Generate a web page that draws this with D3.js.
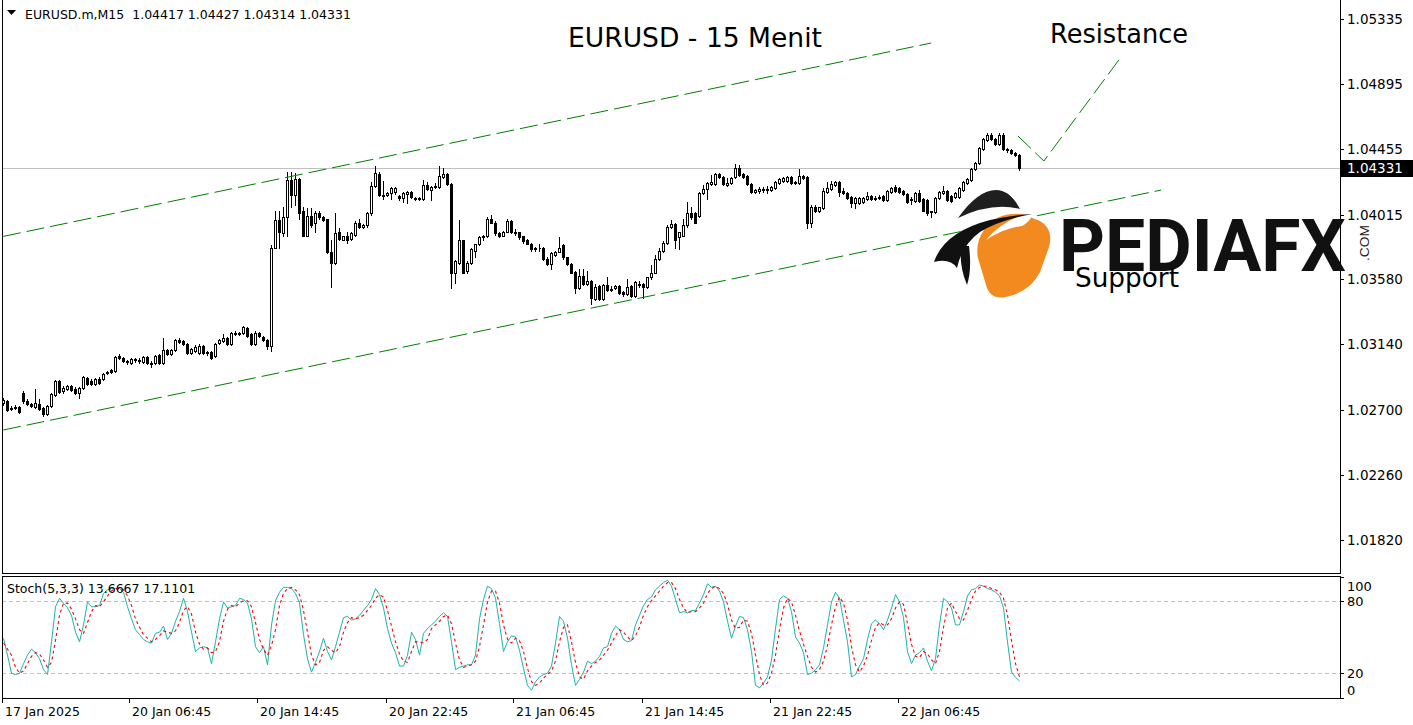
<!DOCTYPE html>
<html>
<head>
<meta charset="utf-8">
<script src="https://cdn.jsdelivr.net/npm/d3@7"></script>
<style>
html, body { margin: 0; padding: 0; background: #fff; }
svg { display: block; }
text { white-space: pre; }
</style>
</head>
<body>
<svg id="chart" width="1413" height="725"></svg>
<script>
// EURUSD.m M15 candles (index 0 = first bar on the left)
var opens = [
1.02746,1.02759,1.02705,1.02712,1.02718,1.02813,1.02759,1.02739,1.02718,1.02739,
1.02712,1.02671,1.02725,1.02800,1.02894,1.02827,1.02840,1.02860,1.02840,1.02813,
1.02847,1.02915,1.02894,1.02874,1.02908,1.02908,1.02948,1.02969,1.02962,1.03063,
1.03050,1.03029,1.03016,1.03043,1.03036,1.03023,1.03056,1.03016,1.03016,1.03070,
1.03016,1.03104,1.03077,1.03104,1.03171,1.03165,1.03144,1.03084,1.03097,1.03084,
1.03131,1.03090,1.03090,1.03063,1.03151,1.03165,1.03185,1.03144,1.03219,1.03212,
1.03219,1.03253,1.03212,1.03144,1.03219,1.03192,1.03171,1.03131,1.03793,1.03976,
1.03888,1.03996,1.04246,1.04145,1.04253,1.04043,1.03874,1.04003,1.03956,1.04023,
1.03996,1.03983,1.03760,1.03692,1.03901,1.03847,1.03868,1.03854,1.03881,1.03962,
1.03929,1.03942,1.04023,1.04206,1.04287,1.04145,1.04145,1.04158,1.04165,1.04138,
1.04125,1.04152,1.04165,1.04125,1.04118,1.04118,1.04212,1.04179,1.04199,1.04199,
1.04267,1.04287,1.04219,1.03618,1.03692,1.03841,1.03638,1.03692,1.03773,1.03814,
1.03861,1.03868,1.03989,1.03962,1.03888,1.03874,1.03901,1.03969,1.03895,1.03895,
1.03868,1.03847,1.03820,1.03780,1.03793,1.03793,1.03719,1.03685,1.03746,1.03766,
1.03807,1.03726,1.03685,1.03631,1.03523,1.03604,1.03550,1.03570,1.03449,1.03536,
1.03449,1.03543,1.03509,1.03523,1.03536,1.03496,1.03482,1.03536,1.03469,1.03550,
1.03550,1.03530,1.03591,1.03624,1.03719,1.03773,1.03827,1.03929,1.03949,1.03861,
1.03874,1.03942,1.04023,1.04023,1.04003,1.04158,1.04185,1.04219,1.04219,1.04287,
1.04267,1.04212,1.04226,1.04267,1.04327,1.04287,1.04273,1.04219,1.04165,1.04172,
1.04185,1.04179,1.04179,1.04192,1.04226,1.04239,1.04239,1.04267,1.04226,1.04226,
1.04273,1.04267,1.03956,1.04070,1.04037,1.04057,1.04165,1.04185,1.04212,1.04233,
1.04172,1.04158,1.04131,1.04091,1.04091,1.04098,1.04118,1.04138,1.04118,1.04125,
1.04138,1.04111,1.04165,1.04199,1.04192,1.04172,1.04152,1.04111,1.04104,1.04158,
1.04118,1.04111,1.04030,1.04030,1.04125,1.04158,1.04172,1.04138,1.04131,1.04131,
1.04179,1.04226,1.04246,1.04321,1.04361,1.04456,1.04517,1.04550,1.04523,1.04490,
1.04550,1.04456,1.04449,1.04429,1.04417];

var highs = [
1.02779,1.02766,1.02725,1.02732,1.02725,1.02827,1.02773,1.02746,1.02840,1.02773,
1.02718,1.02732,1.02813,1.02901,1.02901,1.02860,1.02867,1.02867,1.02854,1.02854,
1.02928,1.02921,1.02908,1.02915,1.02921,1.02948,1.02962,1.02975,1.03063,1.03077,
1.03056,1.03036,1.03050,1.03050,1.03050,1.03063,1.03063,1.03029,1.03070,1.03077,
1.03185,1.03111,1.03111,1.03178,1.03185,1.03171,1.03151,1.03117,1.03138,1.03144,
1.03138,1.03097,1.03097,1.03151,1.03178,1.03212,1.03192,1.03225,1.03232,1.03225,
1.03266,1.03259,1.03219,1.03232,1.03225,1.03198,1.03178,1.03807,1.04043,1.04043,
1.04064,1.04300,1.04300,1.04294,1.04260,1.04064,1.04057,1.04057,1.04037,1.04037,
1.04003,1.03989,1.03841,1.04023,1.03922,1.03874,1.03895,1.03895,1.03969,1.03989,
1.03949,1.04030,1.04233,1.04341,1.04300,1.04239,1.04165,1.04199,1.04199,1.04145,
1.04165,1.04172,1.04172,1.04131,1.04131,1.04246,1.04233,1.04206,1.04226,1.04341,
1.04327,1.04294,1.04226,1.03712,1.03976,1.03847,1.03699,1.03787,1.03820,1.03868,
1.03881,1.03996,1.04010,1.03969,1.03895,1.03908,1.03989,1.03976,1.03915,1.03901,
1.03874,1.03854,1.03827,1.03800,1.03814,1.03800,1.03726,1.03760,1.03773,1.03861,
1.03814,1.03732,1.03692,1.03638,1.03651,1.03645,1.03638,1.03577,1.03550,1.03543,
1.03550,1.03591,1.03536,1.03543,1.03543,1.03503,1.03584,1.03543,1.03570,1.03570,
1.03557,1.03597,1.03672,1.03746,1.03787,1.03834,1.03942,1.03976,1.03962,1.03901,
1.03983,1.04098,1.04070,1.04030,1.04165,1.04212,1.04233,1.04280,1.04294,1.04294,
1.04273,1.04260,1.04267,1.04354,1.04348,1.04294,1.04280,1.04226,1.04185,1.04199,
1.04199,1.04206,1.04206,1.04239,1.04260,1.04267,1.04273,1.04273,1.04239,1.04321,
1.04280,1.04273,1.04077,1.04077,1.04070,1.04192,1.04233,1.04239,1.04239,1.04239,
1.04192,1.04165,1.04138,1.04131,1.04131,1.04131,1.04165,1.04145,1.04138,1.04145,
1.04145,1.04179,1.04199,1.04212,1.04199,1.04179,1.04158,1.04131,1.04165,1.04179,
1.04125,1.04118,1.04043,1.04131,1.04172,1.04206,1.04179,1.04145,1.04165,1.04199,
1.04239,1.04260,1.04327,1.04368,1.04469,1.04530,1.04564,1.04564,1.04530,1.04564,
1.04564,1.04463,1.04456,1.04436,1.04427];

var lows = [
1.02732,1.02691,1.02698,1.02705,1.02678,1.02746,1.02732,1.02718,1.02712,1.02698,
1.02658,1.02664,1.02718,1.02793,1.02813,1.02813,1.02833,1.02827,1.02806,1.02779,
1.02840,1.02867,1.02867,1.02867,1.02874,1.02901,1.02942,1.02948,1.02955,1.03043,
1.03023,1.03009,1.03009,1.03023,1.03016,1.03016,1.03009,1.02989,1.03009,1.03009,
1.03009,1.03070,1.03070,1.03097,1.03151,1.03138,1.03077,1.03077,1.03090,1.03077,
1.03077,1.03070,1.03043,1.03056,1.03144,1.03158,1.03138,1.03138,1.03205,1.03205,
1.03212,1.03192,1.03138,1.03138,1.03192,1.03165,1.03111,1.03097,1.03787,1.03787,
1.03874,1.03874,1.04064,1.04077,1.03989,1.03868,1.03868,1.03935,1.03895,1.03989,
1.03969,1.03753,1.03530,1.03685,1.03847,1.03841,1.03827,1.03847,1.03874,1.03922,
1.03922,1.03935,1.04016,1.04199,1.04138,1.04118,1.04138,1.04118,1.04152,1.04111,
1.04098,1.04091,1.04125,1.04111,1.04111,1.04111,1.04179,1.04111,1.04192,1.04192,
1.04260,1.04212,1.03523,1.03557,1.03685,1.03618,1.03624,1.03685,1.03726,1.03807,
1.03841,1.03861,1.03956,1.03881,1.03861,1.03868,1.03895,1.03888,1.03881,1.03854,
1.03827,1.03814,1.03773,1.03773,1.03773,1.03712,1.03678,1.03645,1.03739,1.03760,
1.03719,1.03678,1.03618,1.03489,1.03516,1.03543,1.03543,1.03415,1.03442,1.03442,
1.03442,1.03503,1.03503,1.03516,1.03482,1.03469,1.03476,1.03462,1.03462,1.03530,
1.03455,1.03523,1.03584,1.03618,1.03712,1.03766,1.03820,1.03922,1.03793,1.03780,
1.03868,1.03935,1.03989,1.03956,1.03996,1.04152,1.04118,1.04212,1.04212,1.04260,
1.04212,1.04206,1.04219,1.04260,1.04273,1.04260,1.04212,1.04158,1.04158,1.04158,
1.04165,1.04158,1.04172,1.04185,1.04219,1.04233,1.04233,1.04219,1.04219,1.04219,
1.04253,1.03922,1.03935,1.04030,1.04030,1.04050,1.04158,1.04179,1.04206,1.04138,
1.04152,1.04118,1.04070,1.04057,1.04084,1.04091,1.04111,1.04111,1.04111,1.04118,
1.04104,1.04104,1.04158,1.04165,1.04158,1.04145,1.04091,1.04084,1.04098,1.04098,
1.04037,1.04016,1.03996,1.04023,1.04118,1.04152,1.04104,1.04098,1.04125,1.04125,
1.04172,1.04219,1.04239,1.04314,1.04354,1.04449,1.04510,1.04517,1.04483,1.04483,
1.04449,1.04436,1.04422,1.04408,1.04314];

var closes = [
1.02766,1.02698,1.02712,1.02718,1.02685,1.02759,1.02739,1.02725,1.02746,1.02705,
1.02671,1.02725,1.02806,1.02894,1.02820,1.02847,1.02860,1.02833,1.02813,1.02847,
1.02921,1.02874,1.02874,1.02908,1.02881,1.02942,1.02955,1.02955,1.03056,1.03050,
1.03029,1.03023,1.03043,1.03036,1.03029,1.03056,1.03016,1.03009,1.03063,1.03016,
1.03104,1.03077,1.03104,1.03171,1.03158,1.03144,1.03084,1.03111,1.03124,1.03131,
1.03084,1.03084,1.03050,1.03144,1.03171,1.03185,1.03144,1.03219,1.03212,1.03219,
1.03259,1.03198,1.03144,1.03219,1.03198,1.03171,1.03131,1.03793,1.03976,1.03895,
1.03996,1.04246,1.04145,1.04253,1.04023,1.03874,1.04003,1.03942,1.04023,1.03996,
1.03976,1.03760,1.03692,1.03888,1.03854,1.03868,1.03847,1.03888,1.03962,1.03929,
1.03942,1.04023,1.04206,1.04294,1.04145,1.04138,1.04158,1.04192,1.04192,1.04125,
1.04158,1.04165,1.04131,1.04118,1.04125,1.04212,1.04185,1.04199,1.04206,1.04273,
1.04287,1.04219,1.03618,1.03705,1.03841,1.03624,1.03692,1.03780,1.03814,1.03861,
1.03874,1.03989,1.03962,1.03888,1.03874,1.03901,1.03969,1.03895,1.03888,1.03861,
1.03834,1.03820,1.03780,1.03793,1.03787,1.03719,1.03685,1.03753,1.03766,1.03793,
1.03726,1.03685,1.03624,1.03523,1.03604,1.03550,1.03570,1.03455,1.03530,1.03449,
1.03543,1.03509,1.03516,1.03536,1.03489,1.03482,1.03530,1.03469,1.03563,1.03543,
1.03530,1.03591,1.03624,1.03719,1.03773,1.03827,1.03935,1.03949,1.03841,1.03895,
1.03942,1.04023,1.03996,1.03962,1.04158,1.04185,1.04226,1.04233,1.04287,1.04267,
1.04219,1.04226,1.04260,1.04327,1.04280,1.04267,1.04219,1.04165,1.04179,1.04185,
1.04179,1.04185,1.04199,1.04233,1.04253,1.04260,1.04267,1.04226,1.04233,1.04273,
1.04260,1.03956,1.04070,1.04037,1.04064,1.04172,1.04192,1.04219,1.04233,1.04165,
1.04158,1.04125,1.04091,1.04125,1.04125,1.04125,1.04138,1.04118,1.04125,1.04131,
1.04111,1.04172,1.04192,1.04172,1.04165,1.04152,1.04098,1.04118,1.04158,1.04104,
1.04043,1.04023,1.04037,1.04125,1.04165,1.04172,1.04111,1.04104,1.04158,1.04192,
1.04233,1.04253,1.04321,1.04361,1.04463,1.04523,1.04550,1.04523,1.04490,1.04550,
1.04456,1.04449,1.04429,1.04415,1.04331];

// Stochastic(5,3,3): main (%K) and signal (%D) lines
var stochMain = [
49,35,20,19,20,28,35,40,37,32, 23,19,46,75,82,78,74,68,54,46,
60,79,75,75,76,86,89,90,90,90, 87,75,65,56,52,48,46,45,53,54,
59,48,53,63,71,82,71,54,38,41, 42,41,28,46,65,79,74,75,76,82,
81,78,65,42,37,42,27,60,80,87, 91,91,90,86,78,52,32,21,29,38,
49,38,31,42,54,66,67,64,65,68, 72,76,81,90,85,74,57,45,37,26,
26,35,54,48,35,53,57,60,63,67, 70,67,46,23,25,26,27,27,35,65,
81,92,90,82,61,38,46,51,50,39, 24,10,6,13,17,19,20,26,45,67,
63,49,27,10,15,21,30,28,30,34, 41,42,53,59,56,48,46,47,60,68,
76,81,83,89,92,95,97,92,81,70, 71,70,72,72,78,85,94,91,92,88,
79,63,49,59,67,66,56,38,10,8, 12,17,31,57,81,84,82,71,50,45,
37,19,20,23,27,41,60,79,87,82, 64,46,17,19,26,32,48,61,64,61,
56,64,74,85,79,66,38,28,35,37, 41,30,22,32,60,82,79,74,60,60,
71,84,89,90,93,92,90,89,87,84, 74,46,21,16.66,13.6667];

var stochSignal = [
45,40,35,25,20,22,28,34,37,36, 31,25,29,47,68,78,78,73,65,56,
53,62,71,76,75,79,84,88,90,90, 89,84,76,65,58,52,49,46,48,51,
55,54,53,55,62,72,75,69,54,44, 40,41,37,38,46,63,73,76,75,78,
80,80,75,62,48,40,35,43,56,76, 86,90,91,89,85,72,54,35,27,29,
39,42,39,37,42,54,62,66,65,66, 68,72,76,82,85,83,72,59,46,36,
30,29,38,46,46,45,48,57,60,63, 67,68,61,45,31,25,26,27,30,42,
60,79,88,88,78,60,48,45,49,47, 38,24,13,10,12,16,19,22,30,46,
58,60,46,29,17,15,22,26,29,31, 35,39,45,51,56,54,50,47,51,58,
68,75,80,84,88,92,95,95,90,81, 74,70,71,71,74,78,86,90,92,90,
86,77,64,57,58,64,63,53,35,19, 10,12,20,35,56,74,82,79,68,55,
44,34,25,21,23,30,43,60,75,83, 78,64,42,27,21,26,35,47,58,62,
60,60,65,74,79,77,61,44,34,33, 38,36,31,28,38,58,74,78,71,65,
64,72,81,88,91,92,92,90,89,87, 82,68,47,28,17.1101];

var timeLabels = ["17 Jan 2025", "20 Jan 06:45", "20 Jan 14:45", "20 Jan 22:45",
                  "21 Jan 06:45", "21 Jan 14:45", "21 Jan 22:45", "22 Jan 06:45"];
var timeBars = [0, 32, 64, 96, 128, 160, 192, 224];

var priceTicks = [1.05335, 1.04895, 1.04455, 1.04015, 1.03580, 1.03140, 1.02700, 1.02260, 1.01820];
var stochTicks = [100, 80, 20, 0];
var stochLevels = [80, 20];
var lastPrice = 1.04331;

// hand drawn trend lines: [bar index, price]
var upperChannel = [[-0.1, 1.03868], [231.9, 1.05173]];
var lowerChannel = [[-0.1, 1.02562], [289.4, 1.04181]];
var resistancePath = [[253.6, 1.04546], [260.1, 1.04377], [279.4, 1.05079]];

var headerText = "EURUSD.m,M15  1.04417 1.04427 1.04314 1.04331";
var stochText = "Stoch(5,3,3) 13.6667 17.1101";

var svg = d3.select("#chart");
var width = 1413, height = 725;
var plotL = 2, plotR = 1340;
var mainTop = 0, mainBot = 574;
var stTop = 576, stBot = 698;

var x = d3.scaleLinear().domain([0, opens.length - 1]).range([3.5, 3.5 + 4 * (opens.length - 1)]);
var y = d3.scaleLinear().domain([1.01820, 1.05335]).range([540, 19]);
var ys = d3.scaleLinear().domain([0, 100]).range([697.5, 576.5]);

var defs = svg.append("defs");
defs.append("clipPath").attr("id", "clipMain").append("rect")
    .attr("x", plotL + 1).attr("y", mainTop).attr("width", plotR - plotL - 1).attr("height", mainBot - mainTop);
defs.append("clipPath").attr("id", "clipStoch").append("rect")
    .attr("x", plotL + 1).attr("y", stTop + 1).attr("width", plotR - plotL - 1).attr("height", stBot - stTop - 1);

svg.append("rect").attr("width", width).attr("height", height).attr("fill", "#fff");

// current price line
svg.append("line")
    .attr("x1", plotL).attr("x2", plotR)
    .attr("y1", Math.round(y(lastPrice)) + 0.5).attr("y2", Math.round(y(lastPrice)) + 0.5)
    .attr("stroke", "#c0c0c0").attr("shape-rendering", "crispEdges");

// candles
var bars = d3.range(opens.length).map(function (i) {
    return { i: i, o: opens[i], h: highs[i], l: lows[i], c: closes[i] };
});
var cg = svg.append("g").attr("clip-path", "url(#clipMain)").attr("shape-rendering", "crispEdges");

cg.selectAll("line.wick").data(bars).join("line")
    .attr("class", "wick")
    .attr("x1", function (d) { return x(d.i); })
    .attr("x2", function (d) { return x(d.i); })
    .attr("y1", function (d) { return Math.round(y(d.h)); })
    .attr("y2", function (d) { return Math.round(y(d.l)) + 1; })
    .attr("stroke", "#000");

cg.selectAll("path.body").data(bars).join("path")
    .attr("class", "body")
    .attr("d", function (d) {
        var cx = x(d.i);
        var t = Math.round(y(Math.max(d.o, d.c))) + 0.5;
        var b = Math.round(y(Math.min(d.o, d.c))) + 0.5;
        return "M" + (cx - 1) + "," + t + "H" + (cx + 1) + "V" + b + "H" + (cx - 1) + "Z";
    })
    .attr("fill", function (d) { return d.c >= d.o ? "#fff" : "#000"; })
    .attr("stroke", "#000");

// channel and resistance lines
var lineGen = d3.line().x(function (d) { return x(d[0]); }).y(function (d) { return y(d[1]); });
var tg = svg.append("g").attr("clip-path", "url(#clipMain)");
[upperChannel, lowerChannel, resistancePath].forEach(function (pts) {
    tg.append("path").attr("d", lineGen(pts))
        .attr("fill", "none").attr("stroke", "#008000").attr("stroke-width", 1)
        .attr("stroke-dasharray", "18,6");
});

// stochastic panel
var sg = svg.append("g").attr("clip-path", "url(#clipStoch)");
stochLevels.forEach(function (v) {
    sg.append("line").attr("x1", plotL).attr("x2", plotR)
        .attr("y1", Math.round(ys(v)) + 0.5).attr("y2", Math.round(ys(v)) + 0.5)
        .attr("stroke", "#c0c0c0").attr("stroke-dasharray", "4,3")
        .attr("shape-rendering", "crispEdges");
});
var stLine = d3.line().x(function (d, i) { return x(i); }).y(function (d) { return ys(d); });
sg.append("path").attr("d", stLine(stochMain))
    .attr("fill", "none").attr("stroke", "#20b2aa").attr("stroke-width", 1);
sg.append("path").attr("d", stLine(stochSignal))
    .attr("fill", "none").attr("stroke", "#ff0000").attr("stroke-width", 1.1)
    .attr("stroke-dasharray", "3,3");

// frames
var fg = svg.append("g").attr("shape-rendering", "crispEdges").attr("fill", "none").attr("stroke", "#000");
fg.append("rect").attr("x", plotL + 0.5).attr("y", mainTop - 1).attr("width", plotR - plotL).attr("height", mainBot - mainTop + 0.5);
fg.append("rect").attr("x", plotL + 0.5).attr("y", stTop + 0.5).attr("width", plotR - plotL).attr("height", stBot - stTop);

// price axis
var axisFont = "Tahoma, 'DejaVu Sans', sans-serif";
var pa = svg.append("g");
priceTicks.forEach(function (p) {
    var yy = Math.round(y(p)) + 0.5;
    pa.append("line").attr("x1", plotR).attr("x2", plotR + 4).attr("y1", yy).attr("y2", yy)
        .attr("stroke", "#000").attr("shape-rendering", "crispEdges");
    pa.append("text").attr("x", plotR + 7).attr("y", yy + 4.5)
        .attr("font-family", axisFont).attr("font-size", 13.5).attr("fill", "#000")
        .text(p.toFixed(5));
});
var lpY = Math.round(y(lastPrice));
pa.append("rect").attr("x", plotR + 1).attr("y", lpY - 8).attr("width", width - plotR - 1).attr("height", 17).attr("fill", "#000");
pa.append("text").attr("x", plotR + 7).attr("y", lpY + 5)
    .attr("font-family", axisFont).attr("font-size", 13.5).attr("fill", "#fff")
    .text(lastPrice.toFixed(5));

// stochastic axis
stochTicks.forEach(function (v) {
    var yy = Math.round(ys(v)) + 0.5;
    var ty = Math.min(Math.max(yy, stTop + 10), stBot - 8);
    pa.append("line").attr("x1", plotR).attr("x2", plotR + 4).attr("y1", yy).attr("y2", yy)
        .attr("stroke", "#000").attr("shape-rendering", "crispEdges");
    pa.append("text").attr("x", plotR + 7).attr("y", ty + 4.5)
        .attr("font-family", axisFont).attr("font-size", 13).attr("fill", "#000")
        .text(v);
});

// time axis
timeBars.forEach(function (b, k) {
    var xx = k === 0 ? plotL + 0.5 : Math.round(x(b)) - 1.5;
    svg.append("line").attr("x1", xx).attr("x2", xx).attr("y1", stBot).attr("y2", stBot + 5)
        .attr("stroke", "#000").attr("shape-rendering", "crispEdges");
    svg.append("text").attr("x", xx + 2.5).attr("y", 716)
        .attr("font-family", axisFont).attr("font-size", 12.5).attr("fill", "#000")
        .text(timeLabels[k]);
});

// header and indicator label
svg.append("path").attr("d", "M7,10 L16,10 L11.5,15 Z").attr("fill", "#000");
svg.append("text").attr("x", 25).attr("y", 19)
    .attr("font-family", axisFont).attr("font-size", 12.5).attr("fill", "#000")
    .text(headerText);
svg.append("text").attr("x", 7).attr("y", 593)
    .attr("font-family", axisFont).attr("font-size", 12.5).attr("fill", "#000")
    .text(stochText);

// annotations
var noteFont = "'Comic Sans MS', 'DejaVu Sans', sans-serif";
svg.append("text").attr("x", 568).attr("y", 47).attr("font-family", noteFont).attr("font-size", 26)
    .attr("textLength", 254).attr("lengthAdjust", "spacingAndGlyphs").text("EURUSD - 15 Menit");
svg.append("text").attr("x", 1050).attr("y", 43).attr("font-family", noteFont).attr("font-size", 26)
    .attr("textLength", 138).attr("lengthAdjust", "spacingAndGlyphs").text("Resistance");

// PEDIAFX logo
var logo = svg.append("g");
logo.append("path").attr("fill", "#1f1f1f")
    .attr("d", "M958,218 Q978,190 996,190 Q1010,190 1020,209 Q992,202 958,218 Z");
logo.append("path").attr("fill", "#f28a1f")
    .attr("d", "M984,230 Q996,212 1022,214 L1040,221 Q1054,229 1049,247 L1040,272 Q1030,292 1006,297 Q990,300 986,285 L978,258 Q975,243 984,230 Z");
logo.append("path").attr("fill", "#fff")
    .attr("d", "M986,240 Q1004,218 1034,212 Q1030,222 1022,226 Q1004,228 986,240 Z");
logo.append("path").attr("fill", "#111")
    .attr("d", "M934,262 Q944,232 990,220 Q1012,215 1032,214 Q1000,220 980,232 Q962,245 957,268 Q950,258 934,262 Z");
logo.append("path").attr("fill", "#111")
    .attr("d", "M961,246 Q959,266 967,285 Q972,270 969,246 Z");
logo.append("text").attr("x", 1059).attr("y", 271)
    .attr("font-family", "Roboto, 'Liberation Sans', sans-serif").attr("font-weight", 700)
    .attr("font-size", 72).attr("fill", "#111")
    .attr("textLength", 287).attr("lengthAdjust", "spacingAndGlyphs").text("PEDIAFX");
logo.append("text").attr("transform", "translate(1369,261) rotate(-90)")
    .attr("font-family", "'Liberation Sans', Arial, sans-serif").attr("font-size", 13).attr("fill", "#222")
    .attr("textLength", 36).attr("lengthAdjust", "spacingAndGlyphs").text(".COM");
svg.append("text").attr("x", 1075).attr("y", 287).attr("font-family", noteFont).attr("font-size", 26)
    .attr("textLength", 104).attr("lengthAdjust", "spacingAndGlyphs").text("Support");
</script>
</body>
</html>
